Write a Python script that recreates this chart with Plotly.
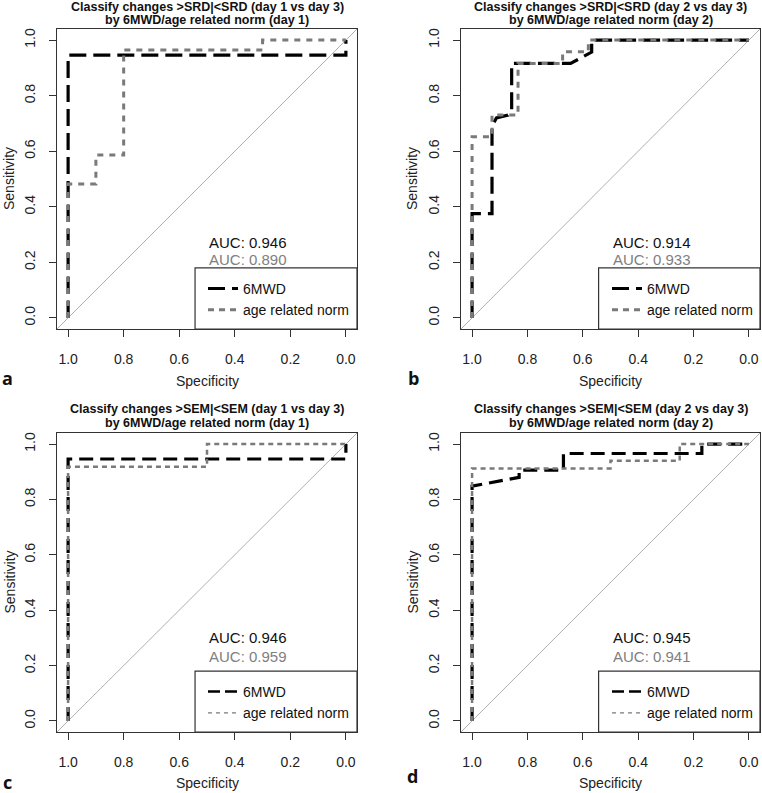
import plotly.graph_objects as go

W, H = 762, 793

# ROC curves (specificity, sensitivity)
spec_a_6mwd = [1.0, 1.0, 0.0, 0.0]
sens_a_6mwd = [0.0, 0.946, 0.946, 1.0]
spec_a_norm = [1.0, 1.0, 0.9, 0.9, 0.8, 0.8, 0.3, 0.3, 0.0]
sens_a_norm = [0.0, 0.482, 0.482, 0.586, 0.586, 0.964, 0.964, 1.0, 1.0]

spec_b_6mwd = [1.0, 1.0, 0.928, 0.928, 0.912, 0.87, 0.857, 0.857, 0.644, 0.568, 0.568, 0.0]
sens_b_6mwd = [0.0, 0.375, 0.375, 0.69, 0.72, 0.73, 0.75, 0.916, 0.916, 0.957, 1.0, 1.0]
spec_b_norm = [1.0, 1.0, 0.928, 0.928, 0.834, 0.834, 0.673, 0.673, 0.58, 0.58, 0.0]
sens_b_norm = [0.0, 0.652, 0.652, 0.73, 0.73, 0.916, 0.916, 0.958, 0.958, 1.0, 1.0]

spec_c_6mwd = [1.0, 1.0, 0.0, 0.0]
sens_c_6mwd = [0.0, 0.946, 0.946, 1.0]
spec_c_norm = [1.0, 1.0, 0.5, 0.5, 0.0]
sens_c_norm = [0.0, 0.918, 0.918, 1.0, 1.0]

spec_d_6mwd = [1.0, 1.0, 0.83, 0.83, 0.67, 0.67, 0.17, 0.17, 0.0]
sens_d_6mwd = [0.0, 0.848, 0.88, 0.906, 0.906, 0.966, 0.966, 1.0, 1.0]
spec_d_norm = [1.0, 1.0, 0.5, 0.5, 0.25, 0.25, 0.0]
sens_d_norm = [0.0, 0.912, 0.912, 0.94, 0.94, 1.0, 1.0]

auc_6mwd = ["0.946", "0.914", "0.946", "0.945"]
auc_norm = ["0.890", "0.933", "0.959", "0.941"]

titles_line1 = [
    "Classify changes &gt;SRD|&lt;SRD (day 1 vs day 3)",
    "Classify changes &gt;SRD|&lt;SRD (day 2 vs day 3)",
    "Classify changes &gt;SEM|&lt;SEM (day 1 vs day 3)",
    "Classify changes &gt;SEM|&lt;SEM (day 2 vs day 3)",
]
titles_line2 = [
    "by 6MWD/age related norm (day 1)",
    "by 6MWD/age related norm (day 2)",
    "by 6MWD/age related norm (day 1)",
    "by 6MWD/age related norm (day 2)",
]
panel_letters = ["a", "b", "c", "d"]
tick_vals = [1.0, 0.8, 0.6, 0.4, 0.2, 0.0]
tick_text = ["1.0", "0.8", "0.6", "0.4", "0.2", "0.0"]
series_names = ["6MWD", "age related norm"]

curves = [
    (spec_a_6mwd, sens_a_6mwd, spec_a_norm, sens_a_norm),
    (spec_b_6mwd, sens_b_6mwd, spec_b_norm, sens_b_norm),
    (spec_c_6mwd, sens_c_6mwd, spec_c_norm, sens_c_norm),
    (spec_d_6mwd, sens_d_6mwd, spec_d_norm, sens_d_norm),
]

# pixel boxes of the four plot regions (left, top, right, bottom)
boxes = [(57, 29, 357, 329), (461, 29, 760, 329), (57, 433, 357, 732), (461, 433, 760, 732)]
auc_y = [(0.273, 0.209), (0.273, 0.209), (0.30, 0.232), (0.30, 0.234)]
letter_pos = [(7, 378), (413, 378), (7, 782), (412, 776)]
title_y = [(7, 20.5), (7, 20.5), (409, 422.5), (409, 422.5)]
xlab_y = [381, 381, 783, 783]
ylab_x = [9, 412, 9, 412]

BLACK = "#000000"
GREY = "#7a7a7a"
FONT = "Liberation Sans, Arial, sans-serif"

line_styles = [
    # curve black, curve grey, legend black, legend grey
    (dict(color=BLACK, width=3.2, dash="17px,7px"), dict(color=GREY, width=3, dash="6px,6px"),
     dict(color=BLACK, width=3, dash="17px,7px"), dict(color=GREY, width=3, dash="6px,5px")),
    (dict(color=BLACK, width=3.2, dash="17px,7px"), dict(color=GREY, width=3, dash="6px,6px"),
     dict(color=BLACK, width=3, dash="17px,7px"), dict(color=GREY, width=3, dash="6px,5px")),
    (dict(color=BLACK, width=3.2, dash="14px,7px"), dict(color=GREY, width=2.5, dash="5px,4px"),
     dict(color=BLACK, width=2.5, dash="12px,5px"), dict(color=GREY, width=1.3, dash="4px,4px")),
    (dict(color=BLACK, width=3.2, dash="14px,7px"), dict(color=GREY, width=2.5, dash="5px,4px"),
     dict(color=BLACK, width=2.5, dash="12px,5px"), dict(color=GREY, width=1.3, dash="4px,4px")),
]

fig = go.Figure()
layout = {}
shapes = []
annotations = []

for i in range(4):
    l, t, r, b = boxes[i]
    sfx = "" if i == 0 else str(i + 1)
    xa, ya = "x" + sfx, "y" + sfx
    leg = "legend" + sfx
    s6, v6, sn, vn = curves[i]
    st = line_styles[i]

    fig.add_trace(go.Scatter(x=s6, y=v6, mode="lines", line=st[0], xaxis=xa, yaxis=ya,
                             showlegend=False, hoverinfo="x+y"))
    fig.add_trace(go.Scatter(x=sn, y=vn, mode="lines", line=st[1], xaxis=xa, yaxis=ya,
                             showlegend=False, hoverinfo="x+y"))
    # legend samples
    fig.add_trace(go.Scatter(x=[None], y=[None], mode="lines", line=st[2], name=series_names[0],
                             xaxis=xa, yaxis=ya, legend=leg, legendgroup=f"g{i}a"))
    fig.add_trace(go.Scatter(x=[None], y=[None], mode="lines", line=st[3], name=series_names[1],
                             xaxis=xa, yaxis=ya, legend=leg, legendgroup=f"g{i}b"))

    axis_common = dict(
        range=[1.04, -0.04], tickvals=tick_vals, ticktext=tick_text,
        showline=True, mirror=True, linecolor="#333", linewidth=1.2,
        ticks="outside", ticklen=7, tickcolor="#333", tickwidth=1.2,
        showgrid=False, zeroline=False, fixedrange=True,
        tickfont=dict(family=FONT, size=14, color="#222"),
    )
    layout["xaxis" + sfx] = dict(axis_common, domain=[l / W, r / W], anchor=ya,
                                 ticklabelstandoff=10)
    layout["yaxis" + sfx] = dict(axis_common, range=[-0.04, 1.04], domain=[1 - b / H, 1 - t / H],
                                 anchor=xa, tickangle=-90, ticklabelstandoff=8)

    layout[leg] = dict(x=(l + 146) / W, y=1 - (b - 56) / H, xanchor="left", yanchor="top",
                       bgcolor="rgba(0,0,0,0)", borderwidth=0, tracegroupgap=0,
                       font=dict(family=FONT, size=14, color="#111"))

    # chance line
    shapes.append(dict(type="line", xref=xa, yref=ya, x0=1.04, y0=-0.04, x1=-0.04, y1=1.04,
                       line=dict(color="#b0b0b0", width=1), layer="below"))
    # legend frame (bottom-right, like R's legend box)
    shapes.append(dict(type="rect", xref=xa, yref=ya, x0=0.543, x1=-0.04, y0=-0.04, y1=0.18,
                       line=dict(color="#333", width=1.2), fillcolor="white", layer="above"))

    annotations.append(dict(xref=xa, yref=ya, x=0.5, y=auc_y[i][0], text="AUC: " + auc_6mwd[i],
                            showarrow=False, xanchor="left", yanchor="middle",
                            font=dict(family=FONT, size=15, color="#111")))
    annotations.append(dict(xref=xa, yref=ya, x=0.5, y=auc_y[i][1], text="AUC: " + auc_norm[i],
                            showarrow=False, xanchor="left", yanchor="middle",
                            font=dict(family=FONT, size=15, color="#808080")))
    for line_txt, ly_title in zip((titles_line1[i], titles_line2[i]), title_y[i]):
        annotations.append(dict(xref="paper", yref="paper", x=(l + r) / 2 / W, y=1 - ly_title / H,
                                text="<b>" + line_txt + "</b>", showarrow=False,
                                xanchor="center", yanchor="middle",
                                font=dict(family=FONT, size=12.5, color="#111")))
    annotations.append(dict(xref="paper", yref="paper", x=(l + r) / 2 / W, y=1 - xlab_y[i] / H,
                            text="Specificity", showarrow=False, xanchor="center", yanchor="middle",
                            font=dict(family=FONT, size=14, color="#222")))
    annotations.append(dict(xref="paper", yref="paper", x=ylab_x[i] / W, y=1 - (t + b) / 2 / H,
                            text="Sensitivity", textangle=-90, showarrow=False,
                            xanchor="center", yanchor="middle",
                            font=dict(family=FONT, size=14, color="#222")))
    lx, ly = letter_pos[i]
    annotations.append(dict(xref="paper", yref="paper", x=lx / W, y=1 - ly / H,
                            text="<b>" + panel_letters[i] + "</b>", showarrow=False,
                            xanchor="center", yanchor="middle",
                            font=dict(family="Open Sans, sans-serif", size=18, color="#111")))

fig.update_layout(
    width=W, height=H,
    margin=dict(l=0, r=0, t=0, b=0),
    paper_bgcolor="white", plot_bgcolor="white",
    shapes=shapes, annotations=annotations,
    **layout,
)

fig.write_html("out.html", config={"displayModeBar": False},
               post_script="document.body.style.margin='0';")
